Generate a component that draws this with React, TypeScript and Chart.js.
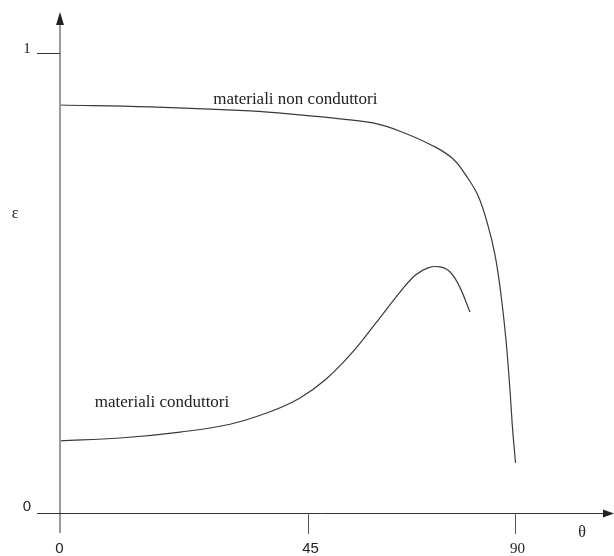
import React, { useEffect, useRef } from "react";
import { Chart, registerables, LinearScale } from "chart.js";

// ---- data (θ in degrees, ε) ----
const nonCondTheta = [0, 16.3, 34.5, 44.0, 52.0, 59.1, 65.0, 72.2, 76.5, 79.6, 82.0, 84.1, 85.65, 86.96, 88.04, 88.91, 89.46, 90.11];
const nonCondEps = [0.887, 0.883, 0.874, 0.865, 0.857, 0.848, 0.83, 0.798, 0.77, 0.73, 0.689, 0.626, 0.561, 0.474, 0.376, 0.267, 0.185, 0.109];

const condTheta = [0, 10.9, 21.8, 30.85, 38.1, 43.55, 48.7, 54.1, 59.6, 65.0, 68.3, 71.1, 73.7, 75.9, 78.0, 80.2];
const condEps = [0.157, 0.163, 0.176, 0.193, 0.22, 0.25, 0.289, 0.343, 0.411, 0.48, 0.517, 0.533, 0.535, 0.524, 0.491, 0.437];

const xTickValues = [0, 45, 90];
const xTickLabels = ["0", "45", "90"];
const yTickValues = [0, 1];
const yTickLabels = ["0", "1"];

const seriesLabels = ["materiali non conduttori", "materiali conduttori"];
const xTitle = "θ";
const yTitle = "ε";

// ---- axis geometry of the drawing (θ axis is not evenly spaced in the original) ----
const X_MAX = 111;
const BEND: [number, number][] = [
  [0, 0],
  [45, 248 / 552],
  [90, 455 / 552],
  [X_MAX, 1],
];

function bend(v: number): number {
  for (let i = 0; i < BEND.length - 1; i++) {
    const [a, fa] = BEND[i];
    const [b, fb] = BEND[i + 1];
    if (v <= b || i === BEND.length - 2) return fa + ((v - a) / (b - a)) * (fb - fa);
  }
  return 1;
}
function unbend(f: number): number {
  for (let i = 0; i < BEND.length - 1; i++) {
    const [a, fa] = BEND[i];
    const [b, fb] = BEND[i + 1];
    if (f <= fb || i === BEND.length - 2) return a + ((f - fa) / (fb - fa)) * (b - a);
  }
  return X_MAX;
}

class BentScale extends LinearScale {
  static id = "bent";
  static defaults = (LinearScale as any).defaults;
  getPixelForValue(v: number) {
    return (this as any).getPixelForDecimal(bend(v));
  }
  getValueForPixel(p: number) {
    return unbend((this as any).getDecimalForPixel(p));
  }
}

Chart.register(...registerables, BentScale as any);

const SERIF = '"Liberation Serif", "DejaVu Serif", serif';
const SANS = '"Liberation Sans", "DejaVu Sans", sans-serif';

const axesPlugin = {
  id: "drawAxes",
  afterDraw(chart: any) {
    const ctx = chart.ctx;
    const xs = chart.scales.x;
    const ys = chart.scales.y;
    const x0 = xs.getPixelForValue(0);
    const y0 = ys.getPixelForValue(0);
    const top = chart.chartArea.top;
    const right = chart.chartArea.right;
    ctx.save();

    // y axis (grey, thick)
    ctx.strokeStyle = "#9a9a9a";
    ctx.lineWidth = 2;
    ctx.beginPath();
    ctx.moveTo(x0, y0 + 20);
    ctx.lineTo(x0, top + 8);
    ctx.stroke();
    ctx.fillStyle = "#222";
    ctx.beginPath();
    ctx.moveTo(x0, top);
    ctx.lineTo(x0 - 4, top + 13);
    ctx.lineTo(x0 + 4, top + 13);
    ctx.closePath();
    ctx.fill();

    // x axis
    ctx.strokeStyle = "#333";
    ctx.lineWidth = 1;
    ctx.beginPath();
    ctx.moveTo(x0 - 23, y0 + 0.5);
    ctx.lineTo(right - 6, y0 + 0.5);
    ctx.stroke();
    ctx.fillStyle = "#222";
    ctx.beginPath();
    ctx.moveTo(right + 2, y0 + 0.5);
    ctx.lineTo(right - 9, y0 - 3.5);
    ctx.lineTo(right - 9, y0 + 4.5);
    ctx.closePath();
    ctx.fill();

    // x ticks
    ctx.strokeStyle = "#555";
    ctx.lineWidth = 1;
    xTickValues.forEach((v, i) => {
      const px = Math.round(xs.getPixelForValue(v)) + 0.5;
      if (i > 0) {
        ctx.beginPath();
        ctx.moveTo(px, y0);
        ctx.lineTo(px, y0 + 21);
        ctx.stroke();
      }
      const lab = xTickLabels[i];
      ctx.font = `15px ${lab === "90" ? SERIF : SANS}`;
      ctx.fillStyle = "#222";
      ctx.textAlign = "center";
      ctx.textBaseline = "middle";
      ctx.fillText(lab, px + (i === 0 ? -1 : 2), y0 + 36);
    });

    // y ticks
    yTickValues.forEach((v, i) => {
      const py = Math.round(ys.getPixelForValue(v)) + 0.5;
      if (v !== 0) {
        ctx.strokeStyle = "#333";
        ctx.beginPath();
        ctx.moveTo(x0 - 23, py);
        ctx.lineTo(x0, py);
        ctx.stroke();
      }
      const lab = yTickLabels[i];
      ctx.font = `15px ${lab === "1" ? SERIF : SANS}`;
      ctx.fillStyle = "#222";
      ctx.textAlign = "center";
      ctx.textBaseline = "middle";
      ctx.fillText(lab, x0 - 33, py - (v === 0 ? 7 : 4));
    });

    // axis titles
    ctx.font = `16px ${SERIF}`;
    ctx.fillStyle = "#222";
    ctx.textAlign = "center";
    ctx.textBaseline = "middle";
    ctx.fillText(xTitle, xs.getPixelForValue(104.5), y0 + 20);
    ctx.fillText(yTitle, x0 - 45, ys.getPixelForValue(0.65));

    // curve labels
    ctx.font = `17px ${SERIF}`;
    ctx.textBaseline = "alphabetic";
    ctx.textAlign = "center";
    ctx.fillText(seriesLabels[0], xs.getPixelForValue(42.7), ys.getPixelForValue(0.889));
    ctx.textAlign = "left";
    ctx.fillText(seriesLabels[1], xs.getPixelForValue(6.3), ys.getPixelForValue(0.230));
    ctx.restore();
  },
};

export default function App() {
  const ref = useRef<HTMLCanvasElement | null>(null);
  useEffect(() => {
    document.body.style.margin = "0";
    const canvas = ref.current;
    if (!canvas) return;
    const toPts = (xs: number[], ys: number[]) => xs.map((x, i) => ({ x, y: ys[i] }));
    const chart = new Chart(canvas, {
      type: "line",
      data: {
        datasets: [
          {
            label: seriesLabels[0],
            data: toPts(nonCondTheta, nonCondEps),
            borderColor: "#3a3a3a",
            borderWidth: 1.2,
            pointRadius: 0,
            tension: 0.4,
            fill: false,
          },
          {
            label: seriesLabels[1],
            data: toPts(condTheta, condEps),
            borderColor: "#3a3a3a",
            borderWidth: 1.2,
            pointRadius: 0,
            tension: 0.4,
            fill: false,
          },
        ],
      },
      options: {
        responsive: false,
        animation: false,
        layout: { padding: { left: 60, right: 2, top: 12, bottom: 43 } },
        plugins: { legend: { display: false }, tooltip: { enabled: false } },
        scales: {
          x: { type: "bent" as any, min: 0, max: X_MAX, display: false },
          y: { type: "linear", min: 0, max: 501 / 460, display: false },
        },
      },
      plugins: [axesPlugin],
    });
    return () => chart.destroy();
  }, []);
  return <canvas ref={ref} width={614} height={556} style={{ display: "block" }} />;
}
